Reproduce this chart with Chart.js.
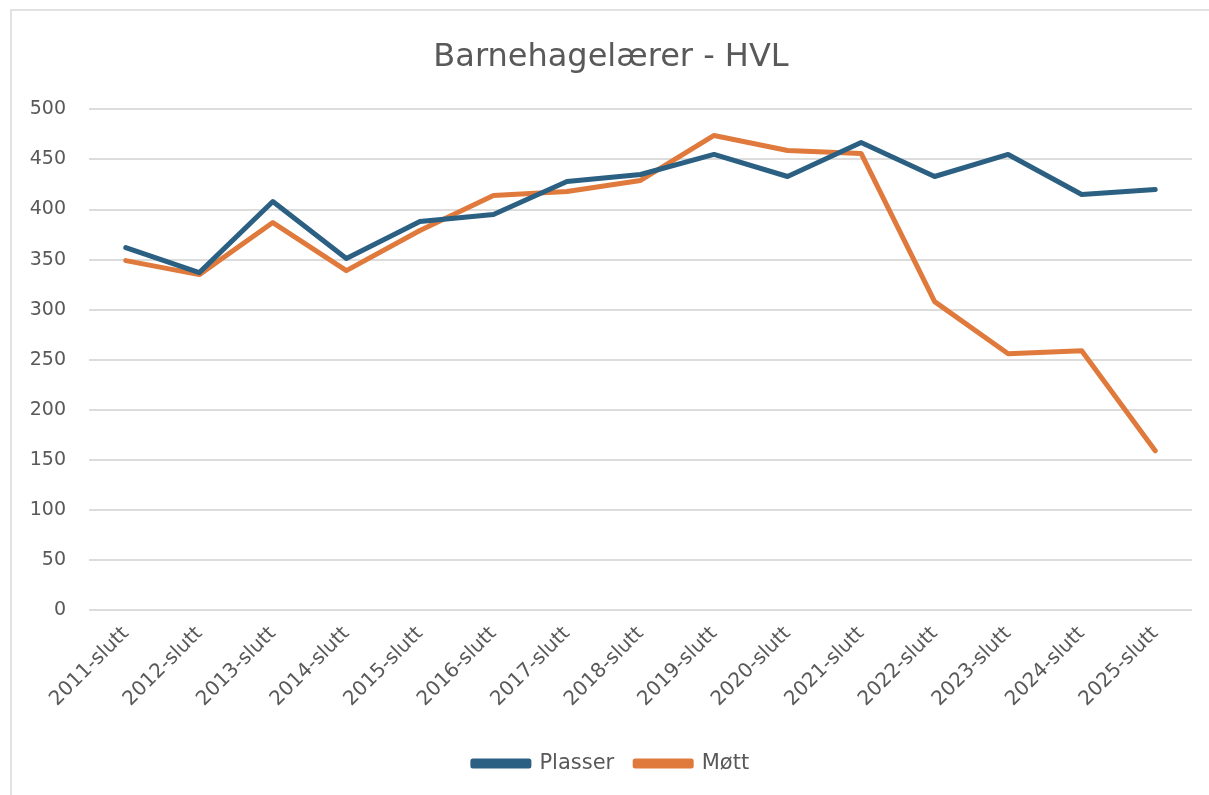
<!DOCTYPE html>
<html>
<head>
<meta charset="utf-8">
<script src="https://cdn.jsdelivr.net/npm/chart.js@4/dist/chart.umd.min.js"></script>
<style>
  html, body { margin: 0; padding: 0; background: #ffffff; }
  #wrap { position: absolute; left: 0; top: 0; width: 1209px; height: 795px; }
  #frame { position: absolute; left: 10px; top: 9px; width: 1300px; height: 900px;
           border-left: 2px solid #e2e2e2; border-top: 2px solid #e2e2e2; }
  canvas { position: absolute; left: 0; top: 0; }
</style>
</head>
<body>
<div id="wrap">
  <div id="frame"></div>
  <canvas id="c" width="1209" height="795"></canvas>
</div>
<script>
const categories = ["2011-slutt","2012-slutt","2013-slutt","2014-slutt","2015-slutt","2016-slutt","2017-slutt","2018-slutt","2019-slutt","2020-slutt","2021-slutt","2022-slutt","2023-slutt","2024-slutt","2025-slutt"];
const plasser = [362, 337, 408, 351, 388, 395, 428, 435, 455, 433, 467, 433, 455, 415, 420];
const mott    = [349, 335, 387, 339, 379, 414, 418, 429, 474, 459, 456, 308, 256, 259, 159];
const yTicks = { min: 0, max: 500, step: 50 };
const titleText = "Barnehagelærer - HVL";

const FONT = "'DejaVu Sans', sans-serif";
const TXT = "#595959";

new Chart(document.getElementById("c"), {
  type: "line",
  data: {
    labels: categories,
    datasets: [
      { label: "Plasser", data: plasser, borderColor: "#2B6083", backgroundColor: "#2B6083",
        borderWidth: 5, pointRadius: 0, tension: 0, borderCapStyle: "round", borderJoinStyle: "round" },
      { label: "Møtt", data: mott, borderColor: "#E07A3C", backgroundColor: "#E07A3C",
        borderWidth: 5, pointRadius: 0, tension: 0, borderCapStyle: "round", borderJoinStyle: "round" }
    ]
  },
  options: {
    responsive: false,
    animation: false,
    devicePixelRatio: 1,
    layout: { padding: { left: 30, right: 17, top: 0, bottom: 11 } },
    plugins: {
      title: { display: true, text: titleText, color: TXT,
               font: { family: FONT, size: 32, weight: "normal" },
               padding: { top: 38, bottom: 33 } },
      legend: { position: "bottom",
                labels: { color: TXT, font: { family: FONT, size: 21 },
                          boxWidth: 56, boxHeight: 5, padding: 21 } },
      tooltip: { enabled: false }
    },
    scales: {
      x: {
        offset: true,
        grid: { display: false },
        border: { display: false },
        ticks: { color: TXT, font: { family: FONT, size: 20 }, minRotation: 45, maxRotation: 45, padding: 4 },
        afterFit: (s) => { s.paddingLeft = 0; s.paddingRight = 0; s.height = 122; }
      },
      y: {
        min: yTicks.min, max: yTicks.max,
        grid: { color: "#dcdcdc", lineWidth: 2, drawTicks: false },
        border: { display: false },
        ticks: { stepSize: yTicks.step, color: TXT, font: { family: FONT, size: 19 }, padding: 23 },
        afterFit: (s) => { s.width = 59; }
      }
    }
  }
});
</script>
</body>
</html>
